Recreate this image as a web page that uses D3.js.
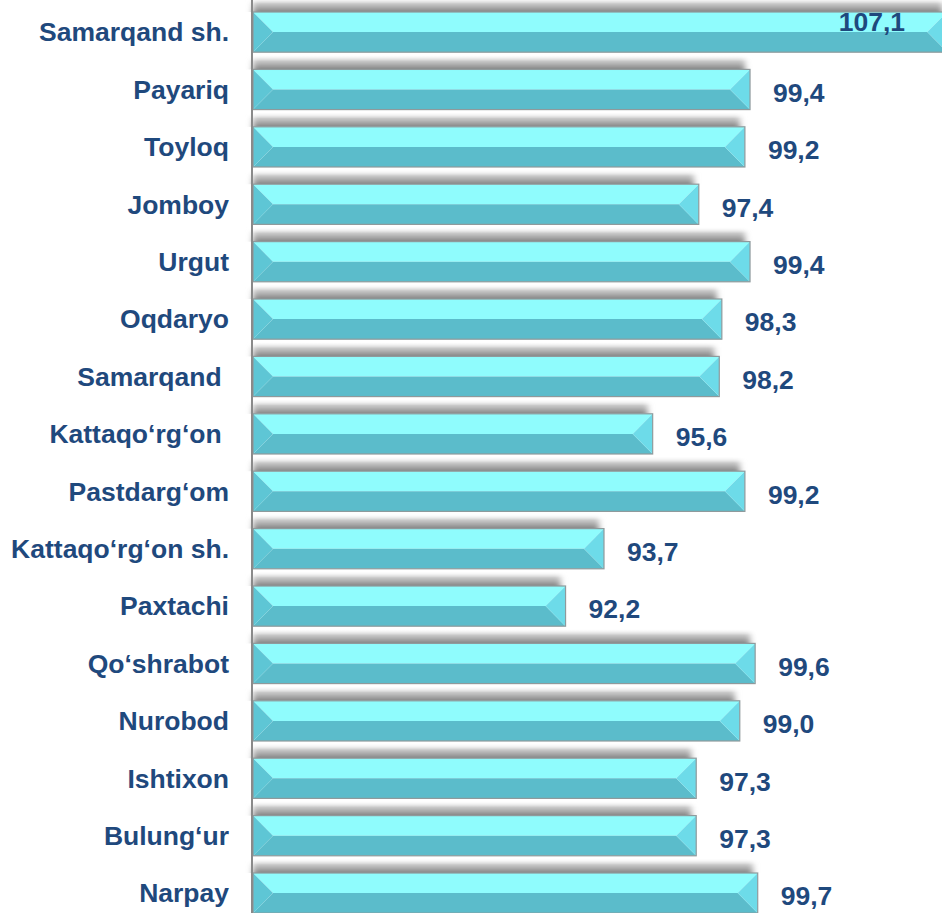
<!DOCTYPE html>
<html>
<head>
<meta charset="utf-8">
<script src="https://cdn.jsdelivr.net/npm/d3@7"></script>
<style>
  html, body { margin: 0; padding: 0; background: #fff; overflow: hidden; }
  svg { display: block; font-family: "Liberation Sans", Arial, sans-serif; }
</style>
</head>
<body>
<div id="chart"></div>
<script>
const districts = [
  "Samarqand sh.", "Payariq", "Toyloq", "Jomboy", "Urgut", "Oqdaryo",
  "Samarqand ", "Kattaqo\u2018rg\u2018on ", "Pastdarg\u2018om", "Kattaqo\u2018rg\u2018on sh.",
  "Paxtachi", "Qo\u2018shrabot", "Nurobod", "Ishtixon", "Bulung\u2018ur", "Narpay"
];
const values = [107.1, 99.4, 99.2, 97.4, 99.4, 98.3, 98.2, 95.6, 99.2, 93.7, 92.2, 99.6, 99.0, 97.3, 97.3, 99.7];
const xDomain = [80, 110];

const width = 942, height = 913;
const axisX = 253;
const textColor = "#1f497d";
const fontSize = 26.5;

const svg = d3.select("#chart").append("svg")
    .attr("width", width)
    .attr("height", height);

const defs = svg.append("defs");

// тень над столбиком
const sg = defs.append("linearGradient")
    .attr("id", "shadowGrad")
    .attr("x1", 0).attr("y1", 0).attr("x2", 0).attr("y2", 1);
sg.append("stop").attr("offset", "0%").attr("stop-color", "#ffffff").attr("stop-opacity", 0);
sg.append("stop").attr("offset", "45%").attr("stop-color", "#c8c8c8").attr("stop-opacity", 1);
sg.append("stop").attr("offset", "100%").attr("stop-color", "#858585").attr("stop-opacity", 1);

defs.append("filter").attr("id", "blur")
    .attr("x", "-5%").attr("y", "-50%").attr("width", "110%").attr("height", "200%")
    .append("feGaussianBlur").attr("stdDeviation", "3 0.6");

const x = d3.scaleLinear().domain(xDomain).range([axisX, axisX + (xDomain[1] - xDomain[0]) * 25.62]);
const y = d3.scaleBand().domain(districts).range([3.4, 3.4 + 16 * 57.4])
    .paddingInner(0.3).paddingOuter(0.15);

const data = districts.map((d, i) => ({ name: d, value: values[i] }));
const bw = y.bandwidth();
const bev = 20;

// тени
svg.append("g").selectAll("rect")
    .data(data)
    .join("rect")
    .attr("x", axisX)
    .attr("y", d => y(d.name) - 15)
    .attr("width", d => x(d.value) - axisX - 5)
    .attr("height", 15)
    .attr("fill", "url(#shadowGrad)")
    .attr("filter", "url(#blur)");

const bars = svg.append("g").selectAll("g")
    .data(data)
    .join("g")
    .attr("transform", d => `translate(0,${y(d.name)})`);

const mid = bw / 2;
// верхняя грань
bars.append("path")
    .attr("fill", "#8ffcfd")
    .attr("d", d => {
        const x0 = axisX, x1 = x(d.value);
        return `M${x0},0L${x1},0L${x1 - bev},${mid}L${x0 + bev},${mid}Z`;
    });
// нижняя грань
bars.append("path")
    .attr("fill", "#5bbccb")
    .attr("d", d => {
        const x0 = axisX, x1 = x(d.value);
        return `M${x0 + bev},${mid}L${x1 - bev},${mid}L${x1},${bw}L${x0},${bw}Z`;
    });
// левый скос
bars.append("path")
    .attr("fill", "#5ec6d5")
    .attr("d", `M${axisX},0L${axisX + bev},${mid}L${axisX},${bw}Z`);
// правый скос
bars.append("path")
    .attr("fill", "#6ddbe9")
    .attr("d", d => {
        const x1 = x(d.value);
        return `M${x1},0L${x1 - bev},${mid}L${x1},${bw}Z`;
    });
// рамка
bars.append("rect")
    .attr("x", axisX)
    .attr("y", 0)
    .attr("width", d => x(d.value) - axisX)
    .attr("height", bw)
    .attr("fill", "none")
    .attr("stroke", "#8f9a9c")
    .attr("stroke-width", 1.2);

// подписи значений
const inside = d => x(d.value) + 23 > width - 70;
bars.append("text")
    .attr("x", d => inside(d) ? width - 37 : x(d.value) + 23)
    .attr("y", d => inside(d) ? mid - 10 : mid + 3)
    .attr("dy", "0.35em")
    .attr("text-anchor", d => inside(d) ? "end" : "start")
    .attr("fill", textColor)
    .attr("font-weight", "bold")
    .attr("font-size", fontSize)
    .text(d => d3.format(".1f")(d.value).replace(".", ","));

// ось
svg.append("line")
    .attr("x1", axisX - 1).attr("x2", axisX - 1)
    .attr("y1", 0).attr("y2", height)
    .attr("stroke", "#8a8a8a")
    .attr("stroke-width", 2);

// подписи районов
svg.append("g").selectAll("text")
    .data(data)
    .join("text")
    .attr("x", 229)
    .attr("y", d => y(d.name) + mid)
    .attr("dy", "0.35em")
    .attr("text-anchor", "end")
    .attr("fill", textColor)
    .attr("font-weight", "bold")
    .attr("font-size", fontSize)
    .style("white-space", "pre")
    .text(d => d.name);
</script>
</body>
</html>
